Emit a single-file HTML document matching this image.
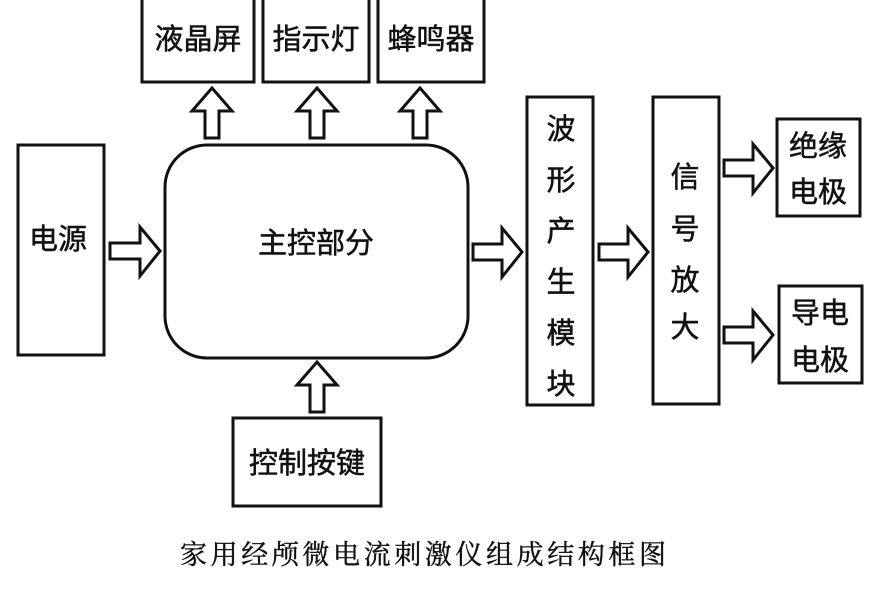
<!DOCTYPE html>
<html><head><meta charset="utf-8"><style>
html,body{margin:0;padding:0;background:#fff;}
svg{display:block}
text{font-family:"Liberation Sans","Noto Sans CJK SC",sans-serif;fill:#111;}
</style></head><body>
<svg width="870" height="589" viewBox="0 0 870 589" xmlns="http://www.w3.org/2000/svg">
<g fill="none" stroke="#111" stroke-width="3">
<rect x="142" y="-3" width="112" height="85"/>
<rect x="263" y="-3" width="106" height="85"/>
<rect x="378" y="-3" width="106" height="85"/>
<rect x="18" y="145" width="86" height="210"/>
<rect x="165" y="145" width="303" height="213" rx="42"/>
<rect x="527" y="97" width="66" height="308"/>
<rect x="653" y="97" width="66" height="307"/>
<rect x="777" y="119" width="83" height="97"/>
<rect x="779" y="286" width="83" height="97"/>
<rect x="233" y="418" width="148" height="88"/>
</g>
<g fill="#fff" stroke="#111" stroke-width="3" stroke-linejoin="miter">
<polygon points="212,88 232,111 219,111 219,138 205,138 205,111 192,111"/>
<polygon points="317,88 337,111 324,111 324,138 310,138 310,111 297,111"/>
<polygon points="420,88 440,111 427,111 427,138 413,138 413,111 400,111"/>
<polygon points="317,362 337,385 324,385 324,412 310,412 310,385 297,385"/>
<polygon points="160,251 140,227 140,243 110,243 110,259 140,259 140,276"/>
<polygon points="522,252 502,228 502,244 473,244 473,260 502,260 502,277"/>
<polygon points="648,252 628,228 628,244 599,244 599,260 628,260 628,277"/>
<polygon points="773,168 753,144 753,160 724,160 724,176 753,176 753,193"/>
<polygon points="773,335 753,311 753,327 724,327 724,343 753,343 753,360"/>
</g>
<g font-size="29" text-anchor="middle" stroke="#111" stroke-width="0.5">
<text x="198" y="49">液晶屏</text>
<text x="316" y="49">指示灯</text>
<text x="431" y="49">蜂鸣器</text>
<text x="58" y="249">电源</text>
<text x="316" y="253">主控部分</text>
<text x="307" y="473">控制按键</text>
<text x="561" y="139">波</text>
<text x="561" y="190">形</text>
<text x="561" y="241">产</text>
<text x="561" y="292">生</text>
<text x="561" y="343">模</text>
<text x="561" y="394">块</text>
<text x="685" y="187">信</text>
<text x="685" y="239">号</text>
<text x="685" y="290">放</text>
<text x="685" y="337">大</text>
<text x="818" y="156">绝缘</text>
<text x="818" y="202">电极</text>
<text x="820" y="323">导电</text>
<text x="820" y="370">电极</text>
</g>
<text x="180" y="564" font-size="27" letter-spacing="3.6" stroke="#111" stroke-width="0.4" style="font-family:'Liberation Serif','Noto Serif CJK SC',serif">家用经颅微电流刺激仪组成结构框图</text>
</svg>
</body></html>
